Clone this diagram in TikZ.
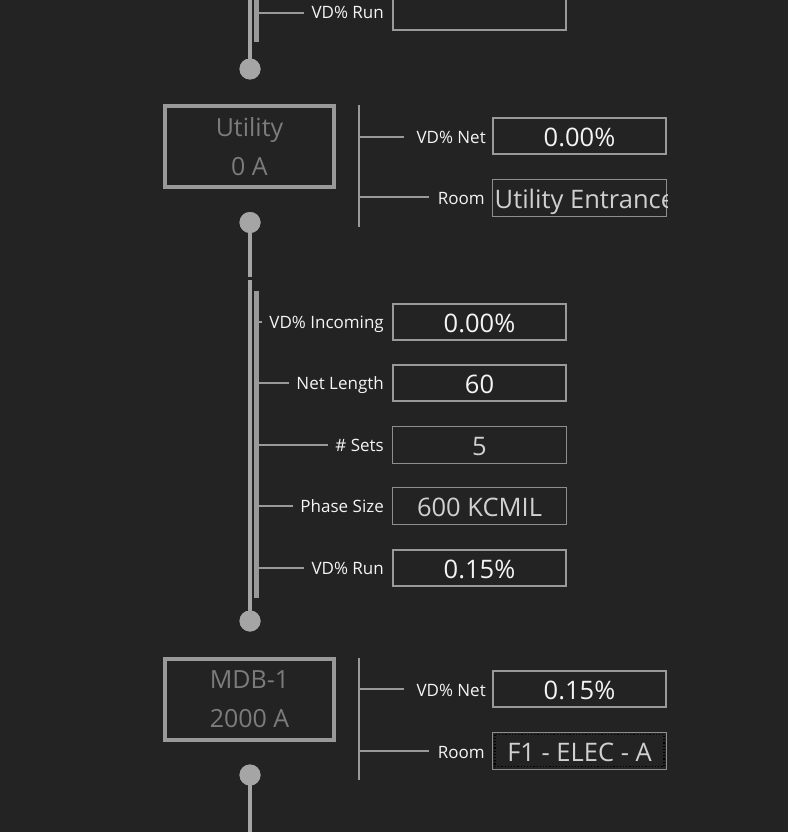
\documentclass[tikz,border=0pt]{standalone}
\usepackage{fontspec}
\setmainfont{Open Sans}

\definecolor{bg}{HTML}{232323}
\definecolor{wire}{HTML}{A5A5A5}
\definecolor{frame}{HTML}{999999}
\definecolor{thinframe}{HTML}{8E8E8E}
\definecolor{dim}{HTML}{7C7C7C}
\definecolor{soft}{HTML}{D0D0D0}
\definecolor{bright}{HTML}{F4F4F4}

\tikzset{
    bus/.style={circle, fill=wire, inner sep=0pt, minimum size=21pt},
    equip/.style={draw=frame, line width=4pt, minimum width=169pt, minimum height=81pt,
        inner sep=0pt, align=center, text=dim, font=\fontsize{25}{39}\selectfont},
    lbl/.style={anchor=base east, inner sep=0pt, text=bright, font=\fontsize{17}{20}\selectfont},
    valbox/.style={draw=frame, line width=2pt, minimum width=173pt, minimum height=36pt,
        inner sep=0pt, text height=21pt, text depth=0pt, text=bright, font=\fontsize{25.5}{30}\selectfont},
    editbox/.style={valbox, draw=thinframe, line width=1pt, minimum width=174pt, minimum height=37pt, text=soft},
    tickline/.style={draw=frame, line width=2pt},
    riser/.style={draw=wire, line width=4pt},
    sidebar/.style={draw=frame, line width=5pt}
}

\begin{document}
\begin{tikzpicture}[x=1pt, y=-1pt]
        % Background and page size
        \fill[bg] (0,0) rectangle (788,832);
        \useasboundingbox (0,0) rectangle (788,832);

        % Top cable, cut off by the page edge
        \coordinate (wtop) at (250,0);
        \node[bus] (dot1) at (250,69) {};
        \draw[riser] (wtop) -- (dot1.center);
        \node[bus] at (250,69) {};
        \draw[sidebar] (256.5,0) -- (256.5,42);
        \node[lbl] (lrunA) at (384,19) {VD\% Run};
        \node[valbox] (brunA) at (479.5,12) {};
        \coordinate (trunA) at (259,13);
        \draw[tickline] (trunA) -- ([xshift=-7pt]lrunA.west |- trunA);

        % Utility equipment
        \node[equip] (util) at (249.5,146.5) {Utility\\0 A};
        \coordinate (utop) at (359,105);
        \coordinate (ubot) at (359,227);
        \draw[tickline] (utop) -- (ubot);
        \node[lbl] (lnetU) at (486,143) {VD\% Net};
        \node[valbox] (bnetU) at (579.5,136) {0.00\%};
        \node[lbl] (lroomU) at (485,204) {Room};
        \node[editbox] (broomU) at (579.5,197.5) {};
        \begin{scope}
            \clip (broomU.south west) rectangle (broomU.north east);
            \node[anchor=base west, inner sep=0pt, text=soft,
                font=\fontsize{25.5}{30}\selectfont] (troomU) at (494.5,208.5) {Utility Entrance};
        \end{scope}
        \coordinate (knetU) at (359,137);
        \coordinate (kroomU) at (359,197);
        \draw[tickline] (knetU) -- ([xshift=-12pt]lnetU.west |- knetU);
        \draw[tickline] (kroomU) -- ([xshift=-9pt]lroomU.west |- kroomU);

        % Cable between Utility and MDB-1
        \node[bus] (dot2) at (250,222.5) {};
        \node[bus] (dot3) at (250,621) {};
        \coordinate (gapA) at (250,277);
        \coordinate (gapB) at (250,280);
        \draw[riser] (dot2.center) -- (gapA);
        \draw[riser] (gapB) -- (dot3.center);
        \node[bus] at (250,222.5) {};
        \node[bus] at (250,621) {};
        \draw[sidebar] (256.5,291) -- (256.5,598);
        \foreach \yy/\nm/\txt/\val/\sty in {
            322/inc/VD\% Incoming/0.00\%/valbox,
            383/len/Net Length/60/valbox,
            445/sets/\# Sets/5/editbox,
            506/phase/Phase Size/600 KCMIL/editbox,
            568/run/VD\% Run/0.15\%/valbox}
        {
            \node[lbl] (l\nm) at (384,\yy+6) {\txt};
            \node[\sty] (b\nm) at (479.5,\yy) {\val};
            \coordinate (t\nm) at (259,\yy);
            \draw[tickline] (t\nm) -- ([xshift=-7pt]l\nm.west |- t\nm);
        }

        % MDB-1 equipment
        \node[equip] (mdb) at (249.5,699.5) {MDB-1\\2000 A};
        \coordinate (mtop) at (359,658);
        \coordinate (mbot) at (359,780);
        \draw[tickline] (mtop) -- (mbot);
        \node[lbl] (lnetM) at (486,696) {VD\% Net};
        \node[valbox] (bnetM) at (579.5,689) {0.15\%};
        \node[lbl] (lroomM) at (485,758) {Room};
        \node[editbox] (broomM) at (579.5,750.5) {F1 - ELEC - A};
        \draw[black, dotted, line width=1.2pt] ([shift={(3pt,-3pt)}]broomM.north west) rectangle ([shift={(-3pt,3pt)}]broomM.south east);
        \coordinate (knetM) at (359,689);
        \coordinate (kroomM) at (359,751);
        \draw[tickline] (knetM) -- ([xshift=-12pt]lnetM.west |- knetM);
        \draw[tickline] (kroomM) -- ([xshift=-9pt]lroomM.west |- kroomM);

        % Outgoing cable
        \node[bus] (dot4) at (250,775) {};
        \coordinate (wbot) at (250,832);
        \draw[riser] (dot4.center) -- (wbot);
        \node[bus] at (250,775) {};
\end{tikzpicture}
\end{document}
